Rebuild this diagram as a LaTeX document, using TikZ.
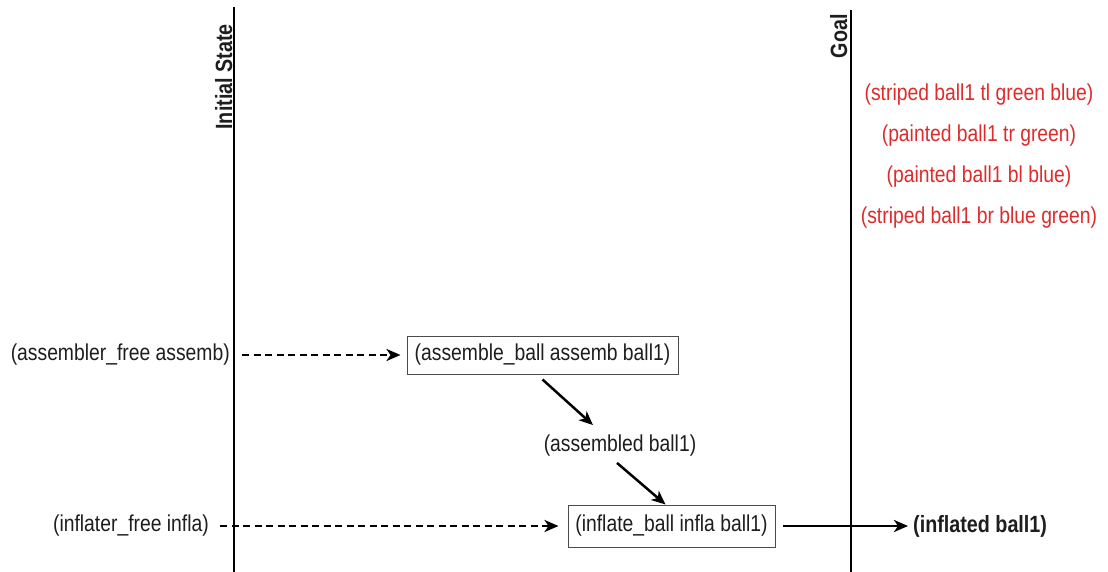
\documentclass[tikz,border=0pt]{standalone}
\usepackage{fontspec}
\setmainfont{Liberation Sans}[FakeStretch=0.84]
\usetikzlibrary{arrows.meta}
\definecolor{txt}{RGB}{30,30,30}
\definecolor{goalred}{RGB}{222,44,44}
\tikzset{
  lbl/.style={inner sep=0pt, text=txt, font=\fontsize{23}{27}\selectfont},
  boldlbl/.style={lbl, font=\fontsize{23.5}{27}\selectfont\bfseries},
  actbox/.style={lbl, draw=txt!80, line width=1pt, minimum height=40pt},
  goaltxt/.style={lbl, text=goalred},
  axis/.style={line width=2.8pt, black},
  arr/.style={line width=2.5pt, -{Stealth[length=14pt,width=12pt,inset=4pt]}, black},
  darr/.style={arr, dash pattern=on 7pt off 4.5pt}
}
\begin{document}
\begin{tikzpicture}[x=1pt,y=-1pt]
\useasboundingbox (0,0) rectangle (1108,572);
\fill[white] (0,0) rectangle (1108,572);

% time axes: initial state and goal
\coordinate (ltop) at (234,7);
\coordinate (lbot) at (234,572);
\coordinate (rtop) at (851,10);
\coordinate (rbot) at (851,572);
\draw[axis] (ltop) -- (lbot);
\draw[axis] (rtop) -- (rbot);
\node[boldlbl, rotate=90, anchor=base east] (init) at (232,24) {Initial State};
\node[boldlbl, rotate=90, anchor=base east] (goal) at (847,14) {Goal};

% goal facts
\node[goaltxt] (g1) at (979,95) {(striped ball1 tl green blue)};
\node[goaltxt] (g2) at (979,136) {(painted ball1 tr green)};
\node[goaltxt] (g3) at (979,177) {(painted ball1 bl blue)};
\node[goaltxt] (g4) at (979,218) {(striped ball1 br blue green)};

% facts and actions
\node[lbl, anchor=east] (af) at (230,355) {(assembler\_free assemb)};
\node[actbox, minimum width=271pt, minimum height=38pt] (ab) at (542.5,355) {(assemble\_ball assemb ball1)};
\node[lbl] (asm) at (620,446) {(assembled ball1)};
\node[lbl, anchor=east] (iff) at (209,526) {(inflater\_free infla)};
\node[actbox, minimum width=207pt, minimum height=42pt] (ib) at (671.5,526) {(inflate\_ball infla ball1)};
\node[boldlbl, anchor=west] (inf) at (913,526) {(inflated ball1)};

% connectors
\draw[darr] ([xshift=12pt]af.east) -- ([xshift=-6pt]ab.west);
\draw[darr] ([xshift=11pt]iff.east) -- ([xshift=-9pt]ib.west);
\draw[arr] ([yshift=-5pt]ab.south) -- ([xshift=-27pt,yshift=10pt]asm.north);
\draw[arr] ([xshift=-3pt,yshift=-6pt]asm.south) -- ([xshift=-6pt]ib.north);
\draw[arr] ([xshift=7pt]ib.east) -- ([xshift=-5pt]inf.west);
\end{tikzpicture}
\end{document}
